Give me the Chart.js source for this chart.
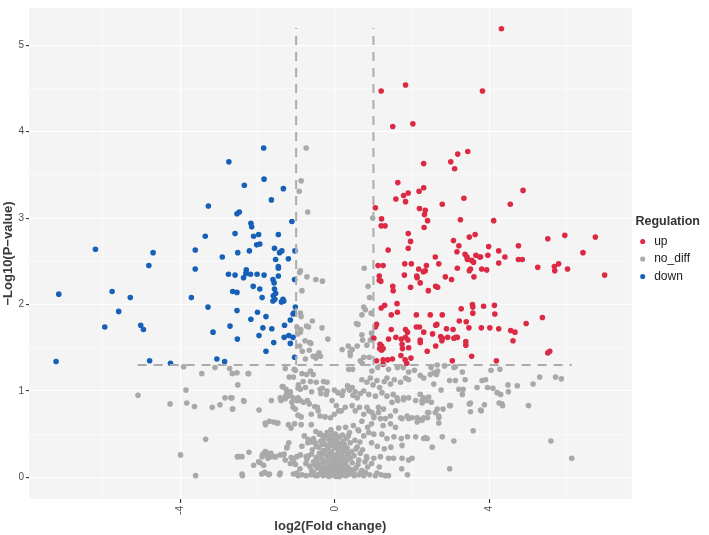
<!DOCTYPE html>
<html>
<head>
<meta charset="utf-8">
<script src="https://cdn.jsdelivr.net/npm/chart.js@4/dist/chart.umd.min.js"></script>
<style>
html, body { margin: 0; padding: 0; background: #fff; }
</style>
</head>
<body>
<canvas id="volcano" width="709" height="535"></canvas>
<script>
// categories + labels
const groups = ['up', 'no_diff', 'down']
const groupColors = ['#DC2A45', '#A9A9A9', '#1660B8']
const xBreaks = [-6, -4, -2, 0, 2, 4, 6]
const xLabeled = [-4, 0, 4]
const yBreaks = [0, 0.5, 1, 1.5, 2, 2.5, 3, 3.5, 4, 4.5, 5]
const yLabeled = [0, 1, 2, 3, 4, 5]

// thresholds (log2 FC +-1, p = 0.05)
const fcCut = [-1, 1]
const pCut = 1.3
const vlineTop = 5.2
const hlineSpan = [-5.1, 6.13]

// points [log2FC, -log10 p]
const down = [
    [-1.84,3.81],[-2.74,3.65],[-1.83,3.45],[-2.34,3.38],[-1.33,3.34],[-1.64,3.21],[-3.27,3.14],[-2.53,3.05],
    [-2.47,3.07],[-1.11,2.96],[-2.17,2.94],[-2.15,2.90],[-2.58,2.82],[-3.35,2.79],[-2.10,2.79],[-1.97,2.81],
    [-1.46,2.81],[-2.02,2.69],[-1.94,2.70],[-1.56,2.65],[-6.19,2.64],[-3.61,2.63],[-2.21,2.62],[-1.43,2.60],
    [-1.37,2.62],[-2.51,2.60],[-4.70,2.60],[-1.03,2.62],[-2.91,2.55],[-1.53,2.52],[-1.20,2.53],[-4.81,2.45],
    [-1.46,2.44],[-1.46,2.42],[-3.61,2.41],[-2.29,2.40],[-2.75,2.35],[-2.58,2.34],[-2.18,2.35],[-2.01,2.35],
    [-1.83,2.34],[-2.36,2.31],[-2.30,2.36],[-1.60,2.29],[-1.57,2.25],[-1.46,2.33],[-1.04,2.29],[-2.11,2.21],
    [-1.94,2.18],[-1.56,2.18],[-1.53,2.13],[-1.59,2.10],[-7.14,2.12],[-5.76,2.15],[-5.29,2.08],[-3.71,2.08],
    [-2.64,2.15],[-2.53,2.14],[-1.88,2.08],[-1.60,2.04],[-1.55,2.06],[-1.34,2.06],[-1.38,2.03],[-1.32,2.04],
    [-3.28,1.97],[-1.02,1.97],[-5.59,1.92],[-2.53,1.93],[-2.00,1.91],[-1.06,1.90],[-1.08,1.89],[-1.78,1.86],
    [-2.17,1.83],[-1.15,1.82],[-5.95,1.74],[-5.02,1.76],[-2.71,1.75],[-1.30,1.76],[-4.95,1.71],[-1.63,1.72],
    [-1.86,1.73],[-3.15,1.68],[-1.96,1.64],[-1.31,1.62],[-1.19,1.64],[-1.08,1.62],[-1.15,1.55],[-2.52,1.60],
    [-1.58,1.56],[-1.78,1.46],[-1.04,1.39],[-7.21,1.34],[-4.79,1.35],[-3.05,1.37],[-2.85,1.34],[-4.25,1.32]
]

const up = [
    [4.31,5.19],[1.83,4.54],[1.20,4.47],[3.82,4.47],[1.50,4.06],[2.02,4.09],[3.44,3.77],[3.18,3.74],
    [3.00,3.65],[3.10,3.57],[2.30,3.63],[1.63,3.41],[4.87,3.32],[2.18,3.31],[2.30,3.35],[1.90,3.29],
    [1.78,3.26],[1.58,3.22],[1.83,3.19],[3.34,3.23],[2.78,3.16],[4.54,3.16],[1.05,3.12],[2.19,3.11],
    [2.34,3.09],[2.32,3.04],[2.40,2.97],[1.21,2.99],[3.25,2.98],[4.11,2.97],[1.20,2.91],[1.30,2.91],
    [2.31,2.89],[1.90,2.82],[3.63,2.81],[5.95,2.80],[6.74,2.78],[3.48,2.78],[5.51,2.76],[1.96,2.73],
    [3.07,2.74],[4.75,2.68],[3.21,2.68],[3.98,2.67],[1.38,2.63],[1.90,2.65],[3.16,2.61],[4.24,2.62],
    [6.42,2.60],[2.60,2.55],[3.37,2.58],[3.42,2.55],[3.43,2.52],[3.65,2.57],[3.75,2.55],[3.96,2.57],
    [4.40,2.55],[4.75,2.52],[4.85,2.52],[3.59,2.49],[2.69,2.47],[4.24,2.48],[1.12,2.45],[1.25,2.45],
    [1.81,2.47],[1.98,2.47],[2.37,2.45],[3.17,2.42],[5.25,2.43],[5.68,2.44],[5.79,2.47],[6.02,2.41],
    [5.69,2.39],[2.17,2.41],[2.34,2.39],[3.51,2.41],[3.48,2.39],[3.80,2.41],[3.93,2.40],[3.54,2.51],
    [3.77,2.55],[6.98,2.34],[1.15,2.33],[1.15,2.28],[1.19,2.27],[1.80,2.34],[2.12,2.33],[2.13,2.31],
    [2.29,2.38],[1.50,2.21],[1.51,2.16],[1.96,2.20],[2.21,2.25],[2.42,2.16],[2.61,2.21],[2.66,2.20],
    [2.86,2.32],[3.02,2.29],[3.60,2.32],[1.20,1.96],[1.29,1.99],[1.46,1.88],[1.61,2.01],[1.62,1.91],
    [2.11,1.88],[2.78,1.88],[3.27,1.95],[3.56,2.00],[3.57,1.97],[3.57,1.90],[3.85,1.98],[4.13,1.99],
    [4.14,1.89],[3.22,1.81],[3.40,1.80],[4.95,1.78],[5.37,1.85],[1.08,1.77],[1.05,1.74],[1.46,1.71],
    [1.83,1.71],[1.88,1.68],[2.11,1.74],[2.19,1.74],[2.30,1.68],[2.53,1.66],[2.61,1.76],[2.64,1.77],
    [2.74,1.63],[2.77,1.58],[2.78,1.61],[2.89,1.72],[2.92,1.62],[3.06,1.71],[3.08,1.61],[3.13,1.62],
    [3.17,1.62],[3.47,1.73],[3.79,1.73],[4.01,1.73],[4.24,1.72],[4.55,1.70],[4.66,1.68],[4.61,1.58],
    [3.39,1.57],[3.39,1.53],[1.01,1.61],[1.17,1.54],[1.21,1.52],[1.16,1.49],[1.21,1.47],[1.25,1.49],
    [1.39,1.60],[1.58,1.62],[1.72,1.60],[1.74,1.54],[1.75,1.49],[1.83,1.62],[1.89,1.59],[1.91,1.50],
    [2.21,1.59],[2.21,1.56],[2.39,1.46],[2.61,1.52],[3.54,1.40],[5.56,1.46],[5.51,1.44],[1.08,1.35],
    [1.25,1.36],[1.25,1.31],[1.37,1.36],[1.49,1.37],[1.71,1.41],[1.82,1.36],[1.86,1.32],[1.97,1.38],
    [3.04,1.35],[4.18,1.35],[2.47,1.88]
]

const noDiff = [
    // above the p line but |log2FC| < 1
    [-0.74,3.81],[-0.87,3.43],[-0.92,3.31],[-0.70,3.07],[-0.89,2.39],[0.98,3.00],[0.76,2.42],
    [-0.91,2.37],[-0.72,2.32],[-0.49,2.29],[-0.32,2.27],[-0.85,2.16],[0.86,2.21],[0.90,2.08],
    [-0.89,1.90],[-0.87,1.86],[-0.58,1.81],[-0.98,1.74],[-0.89,1.68],[-0.88,1.71],[-0.96,1.66],
    [-0.68,1.74],[-0.73,1.75],[-0.33,1.73],[-0.18,1.60],[-0.77,1.58],[-0.65,1.56],[-0.62,1.55],
    [0.19,1.48],[0.35,1.52],[-0.66,1.47],[-0.41,1.44],[-0.45,1.41],[-0.49,1.38],[-0.37,1.40],
    [-0.76,1.37],[-0.56,1.40],[-0.91,1.52],[-0.84,1.46],[0.75,1.97],[0.60,1.77],[0.70,1.88],
    [0.94,1.90],[0.95,1.67],[0.98,1.62],[0.92,1.59],[0.72,1.59],[0.83,1.53],[0.40,1.45],[0.40,1.41],
    [0.75,1.39],[0.89,1.39],[0.66,1.35],[0.56,1.78],[0.70,1.65],[0.79,1.94],[0.45,1.48],[0.58,1.52],
    // left side
    [-5.09,0.95],[-4.26,0.85],[-3.85,1.01],[-3.83,0.86],[-3.63,0.82],[-3.91,1.28],[-3.44,1.20],
    [-3.10,1.27],[-2.72,1.26],[-2.65,1.20],[-2.24,1.20],[-3.17,0.81],[-2.97,0.84],[-2.84,0.92],
    [-2.69,0.92],[-2.65,0.79],[-2.35,0.88],[-3.34,0.44],[-3.99,0.26],[-3.60,0.02],[-2.52,0.24],
    [-2.39,0.02],[-1.97,0.18],[-1.88,0.24],[-1.80,0.63],[-1.50,0.63],[-1.80,0.30],[-1.76,0.26],
    [-1.65,0.28],[-1.53,0.24],[-1.41,0.05],[-1.81,0.06],[-1.71,0.03],[-1.31,0.27],[-1.24,0.34],
    [-1.28,0.20],[-1.19,0.40],[-1.15,0.16],[-1.10,0.22],[-1.02,0.15],[-1.41,0.92],[-1.28,0.91],
    [-1.22,0.94],[-1.08,0.92],[-0.98,0.89],[-1.36,1.05],[-1.26,1.02],[-1.15,0.99],[-1.05,1.25],
    [-1.07,1.16],[-2.53,1.21],[-2.23,1.20],[-1.28,1.26],[-1.02,1.24],[-0.85,1.20],[-0.73,1.19],
    [-0.63,1.23],[-0.56,1.19],[-1.18,1.16],[-0.82,1.11],[-0.63,1.11],[-0.48,1.10],[-0.29,1.11],
    [-2.51,1.07],[-0.94,1.07],[-0.76,1.04],[-0.95,1.03],[-0.89,1.02],[-0.60,0.99],[-0.38,1.02],
    [-0.36,0.97],[-0.20,1.00],[0.08,0.98],[0.22,1.00],[0.35,1.04],[-1.34,1.05],[-1.24,0.97],
    [-1.15,0.95],[-1.27,0.94],[-1.39,0.89],[-2.66,0.92],[-2.36,0.89],[-2.64,0.79],[-1.64,0.89],
    [-0.95,0.92],[-0.89,0.89],[-0.81,0.87],[-0.71,0.89],[-0.66,0.85],[-0.52,0.82],[-0.45,0.81],
    [-0.43,0.77],[-1.11,0.87],[-1.08,0.81],[-1.02,0.79],[-1.96,0.78],[-0.61,0.73],[-0.38,0.71],
    [-0.25,0.70],[-0.11,0.69],[-0.01,0.73],[0.10,0.77],[0.17,0.77],[-0.95,0.72],[-0.87,0.70],
    [-1.69,0.65],[-1.58,0.64],[-1.47,0.63],[-1.79,0.61],[-1.20,0.61],[-1.13,0.57],[-1.04,0.62],
    [-0.87,0.61],[-0.61,0.61],[-0.49,0.53],[-0.38,0.51],[-0.31,0.48],[-0.20,0.52],[-0.12,0.48],
    [-0.07,0.45],[-0.03,0.50],[-0.79,0.48],[-0.69,0.44],[-0.60,0.41],[-1.24,0.35],[-1.33,0.26],
    [-1.63,0.24],[-1.77,0.29],[-1.86,0.27],[-2.49,0.24],[-2.40,0.24],[-2.22,0.29],[-2.10,0.14],
    [-1.93,0.17],[-1.84,0.14],[-1.73,0.22],[-1.54,0.24],[-1.41,0.26],[-1.13,0.23],[-1.07,0.20],
    [-0.98,0.24],[-0.89,0.26],[-0.74,0.24],[-0.72,0.21],[-2.40,0.04],[-1.89,0.04],[-1.80,0.05],
    [-1.69,0.04],[-1.43,0.03],[-1.07,0.04],[-0.98,0.05],[-0.85,0.03],
    // centre cluster
    [-0.95,0.02],[-0.74,0.02],[-0.62,0.03],[-0.50,0.02],[-0.40,0.04],[-0.30,0.02],[-0.22,0.05],
    [-0.15,0.01],[-0.08,0.03],[0.00,0.02],[0.07,0.04],[0.12,0.01],[0.20,0.03],[0.28,0.02],[0.38,0.04],
    [0.50,0.02],[0.62,0.03],[0.75,0.02],[0.90,0.03],[1.05,0.02],[1.20,0.03],
    [-0.90,0.10],[-0.60,0.08],[-0.45,0.11],[-0.35,0.09],[-0.28,0.12],[-0.18,0.08],[-0.10,0.10],
    [-0.05,0.13],[0.03,0.08],[0.10,0.11],[0.16,0.07],[0.24,0.10],[0.33,0.12],[0.42,0.09],[0.55,0.11],
    [0.70,0.08],[0.85,0.12],[-0.75,0.16],[-0.55,0.18],[-0.40,0.15],[-0.25,0.17],[-0.15,0.20],
    [-0.06,0.16],[0.02,0.18],[0.08,0.15],[0.14,0.20],[0.20,0.16],[0.30,0.19],[0.45,0.17],[0.60,0.15],
    [0.78,0.18],[0.95,0.16],[-0.68,0.25],[-0.48,0.23],[-0.32,0.27],[-0.20,0.24],[-0.12,0.28],
    [-0.02,0.22],[0.05,0.26],[0.12,0.24],[0.18,0.28],[0.26,0.23],[0.35,0.27],[0.50,0.25],[0.66,0.28],
    [0.82,0.24],[-0.58,0.32],[-0.42,0.35],[-0.30,0.31],[-0.18,0.34],[-0.08,0.30],[0.00,0.35],
    [0.08,0.32],[0.15,0.36],[0.22,0.31],[0.32,0.34],[0.44,0.30],[0.58,0.35],[0.72,0.32],[-0.50,0.40],
    [-0.36,0.42],[-0.25,0.38],[-0.14,0.43],[-0.04,0.40],[0.05,0.44],[0.13,0.39],[0.21,0.42],
    [0.30,0.45],[0.40,0.40],[0.52,0.43],[0.65,0.41],[-0.40,0.50],[-0.22,0.48],[-0.10,0.55],
    [0.02,0.50],[0.10,0.57],[0.20,0.49],[0.28,0.58],[0.38,0.52],[0.48,0.60],[0.60,0.55],[0.85,0.58],
    [-0.85,0.36],[-0.65,0.13],[-0.35,0.22],[-0.05,0.07],[0.25,0.38],[0.35,0.07],[0.55,0.33],
    [-0.55,0.06],[-0.45,0.02],[-0.33,0.06],[-0.26,0.03],[-0.12,0.05],[-0.02,0.06],[0.04,0.01],
    [0.15,0.04],[0.24,0.06],[0.33,0.03],[-0.52,0.14],[-0.38,0.12],[-0.22,0.10],[-0.13,0.14],
    [0.00,0.12],[0.06,0.10],[0.20,0.12],[0.28,0.14],[-0.46,0.20],[-0.30,0.19],[-0.10,0.21],
    [0.10,0.19],[0.25,0.21],[0.40,0.22],[-0.60,0.27],[-0.40,0.28],[-0.25,0.30],[-0.05,0.26],
    [0.10,0.28],[0.30,0.29],[-0.48,0.36],[-0.33,0.38],[-0.12,0.37],[0.05,0.39],[0.20,0.36],
    [-0.70,0.40],[-0.28,0.44],[0.12,0.47],[-0.55,0.45],[0.35,0.48],
    // right of centre
    [0.36,1.25],[0.46,1.25],[0.71,1.32],[0.96,1.23],[1.11,1.27],[1.39,1.25],[1.62,1.27],[1.77,1.27],
    [1.91,1.22],[2.06,1.24],[2.21,1.18],[2.30,1.15],[-0.20,1.10],[-0.32,1.03],[-0.22,0.96],[-0.01,1.01],
    [0.19,0.95],[0.33,1.06],[0.38,1.01],[0.45,1.04],[0.53,0.99],[0.47,0.95],[0.58,0.92],[0.66,0.97],
    [0.70,1.13],[0.83,1.10],[0.92,1.15],[0.99,1.07],[1.09,1.12],[1.16,1.04],[1.28,1.11],[1.35,1.15],
    [1.44,1.08],[1.54,1.13],[1.70,1.10],[1.83,1.15],[1.91,1.13],[0.75,1.00],[0.88,0.96],[1.05,0.94],
    [1.22,0.98],[1.35,0.94],[1.51,0.96],[1.61,0.92],[1.78,0.90],[1.91,0.92],[2.09,0.89],[2.26,0.89],
    [2.39,0.89],[-0.07,0.89],[0.04,0.83],[0.14,0.77],[0.27,0.81],[0.45,0.83],[0.53,0.77],[0.64,0.81],
    [0.75,0.73],[0.88,0.77],[1.01,0.71],[1.13,0.75],[1.31,0.68],[1.44,0.71],[1.57,0.77],[1.74,0.68],
    [1.87,0.71],[2.00,0.69],[2.13,0.64],[2.26,0.66],[2.65,1.30],[2.84,1.29],[3.12,1.28],[3.08,1.27],
    [2.49,1.27],[2.56,1.21],[2.63,1.19],[2.66,1.23],[2.47,1.19],[3.30,1.22],[4.04,1.24],[4.27,1.25],
    [2.97,1.12],[3.12,1.12],[3.37,1.13],[3.81,1.12],[3.90,1.13],[2.56,1.08],[2.75,1.01],[3.21,1.02],
    [3.32,1.02],[3.30,0.96],[3.68,1.04],[3.95,1.04],[4.09,1.03],[4.20,0.98],[4.29,0.96],[4.48,1.07],
    [4.72,1.06],[5.13,1.08],[5.30,1.16],[5.71,1.16],[5.86,1.14],[4.49,0.99],[2.21,0.96],[2.30,0.92],
    [2.43,0.93],[2.26,0.86],[2.50,0.87],[2.97,0.83],[3.51,0.86],[3.87,0.84],[4.25,0.86],[4.34,0.83],
    [5.01,0.83],[2.65,0.79],[2.80,0.79],[2.43,0.75],[2.60,0.75],[2.69,0.71],[3.51,0.76],[3.79,0.77],
    [2.30,0.69],[2.40,0.69],[2.21,0.67],[2.69,0.63],[3.58,0.54],[2.34,0.46],[2.39,0.45],[2.78,0.47],
    [3.08,0.42],[2.52,0.35],[2.97,0.10],[5.59,0.42],[6.13,0.22],[1.73,0.10],[1.88,0.03],[1.31,0.02],
    [1.39,0.02],[1.09,0.05],[0.79,0.06],[0.66,0.05],[0.49,0.06],[1.39,0.22],[1.52,0.22],[1.74,0.22],
    [1.91,0.20],[2.00,0.22],[0.83,0.22],[0.62,0.20],[1.18,0.24],[1.01,0.22],[1.74,0.37],[2.30,0.45],
    [2.09,0.47],[1.88,0.47],[1.72,0.45],[1.53,0.47],[1.35,0.45],[1.22,0.50],[1.01,0.50],[0.88,0.52],
    [0.75,0.48],[0.62,0.54],[2.13,0.69],[2.40,0.75],[2.69,0.69],[2.99,0.83],[3.48,0.85],[3.77,0.78],
    [4.32,0.85],[1.78,0.92],[1.63,0.89],[1.48,0.87],[1.26,0.79],[1.13,0.81],[0.96,0.75],[0.83,0.81],
    [1.01,0.69],[1.18,0.68],[1.44,0.62],[1.57,0.58],[1.70,0.69],[1.91,0.68],[1.10,0.36],[1.28,0.33],
    [0.95,0.40],[1.15,0.12],[1.45,0.35],[0.70,0.65],[0.95,0.62],[1.25,0.60]
]

Chart.defaults.font.family = '"Liberation Sans", Arial, sans-serif'
Chart.defaults.color = '#4d4d4d'

// grey panel behind the plot
let panelBg = {
    id: 'panelBg',
    beforeDraw(chart) {
        let a = chart.chartArea
        let ctx = chart.ctx
        ctx.save()
        ctx.fillStyle = '#F4F4F4'
        ctx.fillRect(a.left, a.top, a.right - a.left, a.bottom - a.top)
        ctx.restore()
    }
}

let toXY = arr => arr.map(p => ({ x: p[0], y: p[1] }))

let pointSet = (label, arr, color) => ({
    label: label,
    data: toXY(arr),
    backgroundColor: color,
    borderColor: color,
    pointRadius: 2.8,
    pointBorderWidth: 0,
    pointHoverRadius: 2.8
})

let cutLine = pts => ({
    label: '_cut',
    data: pts,
    showLine: true,
    borderColor: '#ABABAB',
    borderWidth: 2,
    borderDash: [9, 7],
    pointRadius: 0,
    order: -1
})

let ctx = document.getElementById('volcano').getContext('2d')

let chart = new Chart(ctx, {
    type: 'scatter',
    data: {
        datasets: [
            pointSet(groups[0], up, groupColors[0]),
            pointSet(groups[1], noDiff, groupColors[1]),
            pointSet(groups[2], down, groupColors[2]),
            cutLine([{ x: fcCut[0], y: pCut }, { x: fcCut[0], y: vlineTop }]),
            cutLine([{ x: fcCut[1], y: pCut }, { x: fcCut[1], y: vlineTop }]),
            cutLine([{ x: hlineSpan[0], y: pCut }, { x: hlineSpan[1], y: pCut }])
        ]
    },
    options: {
        responsive: false,
        animation: false,
        events: [],
        layout: { padding: { top: 3, right: 9, bottom: 0, left: 0 } },
        scales: {
            x: {
                type: 'linear',
                min: -7.91,
                max: 7.68,
                afterBuildTicks: s => { s.ticks = xBreaks.map(v => ({ value: v })) },
                afterFit: s => { s.height = 36 },
                border: { display: false },
                grid: {
                    color: '#ffffff',
                    lineWidth: c => xLabeled.includes(c.tick && c.tick.value) ? 1.1 : 0.5,
                    tickColor: c => xLabeled.includes(c.tick && c.tick.value) ? '#333333' : 'rgba(0,0,0,0)',
                    tickLength: 4
                },
                ticks: {
                    autoSkip: false,
                    minRotation: 90,
                    maxRotation: 90,
                    padding: 3,
                    font: { size: 10 },
                    color: '#4d4d4d',
                    callback: v => xLabeled.includes(v) ? String(v) : ''
                },
                title: {
                    display: true,
                    text: 'log2(Fold change)',
                    font: { size: 13, weight: 'bold' },
                    color: '#3a3a3a',
                    padding: { top: 0, bottom: 1 }
                }
            },
            y: {
                min: -0.25,
                max: 5.43,
                afterBuildTicks: s => { s.ticks = yBreaks.map(v => ({ value: v })) },
                afterFit: s => { s.width = 29 },
                border: { display: false },
                grid: {
                    color: '#ffffff',
                    lineWidth: c => yLabeled.includes(c.tick && c.tick.value) ? 1.1 : 0.5,
                    tickColor: c => yLabeled.includes(c.tick && c.tick.value) ? '#333333' : 'rgba(0,0,0,0)',
                    tickLength: 3
                },
                ticks: {
                    autoSkip: false,
                    padding: 2,
                    font: { size: 10 },
                    color: '#4d4d4d',
                    callback: v => yLabeled.includes(v) ? String(v) : ''
                },
                title: {
                    display: true,
                    text: '−Log10(P−value)',
                    font: { size: 13, weight: 'bold' },
                    color: '#3a3a3a',
                    padding: { top: 1, bottom: 0 }
                }
            }
        },
        plugins: {
            tooltip: { enabled: false },
            legend: {
                position: 'right',
                align: 'start',
                labels: {
                    usePointStyle: true,
                    boxWidth: 11,
                    boxHeight: 3.6,
                    padding: 5.5,
                    font: { size: 12 },
                    color: '#1a1a1a',
                    filter: item => item.datasetIndex < 3
                },
                title: {
                    display: true,
                    text: 'Regulation',
                    position: 'end',
                    font: { size: 12.5, weight: 'bold' },
                    color: '#333333',
                    padding: { top: 212, bottom: 0 }
                }
            }
        }
    },
    plugins: [panelBg]
})
</script>
</body>
</html>
